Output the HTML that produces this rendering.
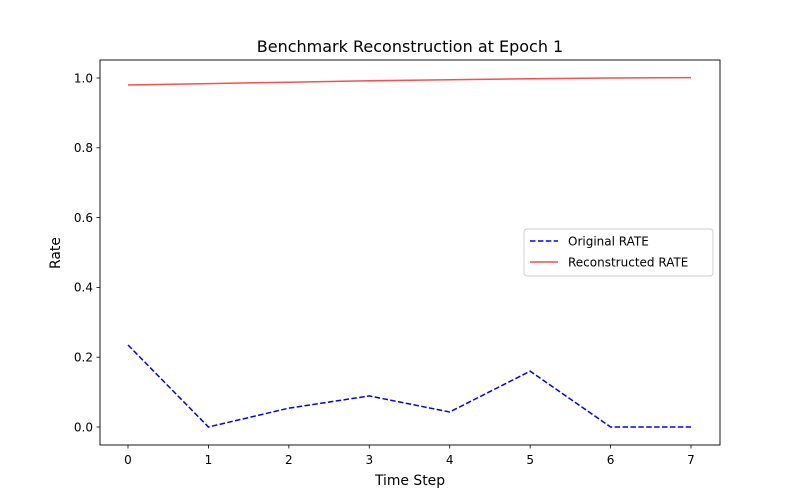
<!DOCTYPE html>
<html><head><meta charset="utf-8">
<style>
html,body{margin:0;padding:0;background:#fff;}
svg{display:block;font-family:"DejaVu Sans","Liberation Sans",sans-serif;}
</style></head>
<body>
<svg id="chart" width="800" height="500" xmlns="http://www.w3.org/2000/svg">
<rect width="800" height="500" fill="#fff"/>
<text x="410" y="52" font-size="16" text-anchor="middle">Benchmark Reconstruction at Epoch 1</text>
<g id="axes"></g>
<g id="series"></g>
<rect x="100" y="60" width="620" height="385" fill="none" stroke="#000" stroke-width="0.9"/>
<text x="410" y="485" font-size="13.9" text-anchor="middle">Time Step</text>
<text x="60" y="253" font-size="13.9" text-anchor="middle" transform="rotate(-90 60 253)">Rate</text>
<g>
<rect x="524" y="229" width="189" height="47" rx="3" fill="#fff" stroke="#ccc" stroke-width="0.9"/>
<line x1="530" y1="241" x2="558" y2="241" stroke="#0000ff" stroke-width="1.5" stroke-dasharray="5.5,2.4"/>
<text x="568" y="245.5" font-size="12">Original RATE</text>
<line x1="530" y1="262" x2="558" y2="262" stroke="#ff0000" stroke-opacity="0.7" stroke-width="1.5"/>
<text x="568" y="266.5" font-size="12">Reconstructed RATE</text>
</g>
</svg>
<script>
const steps=[0,1,2,3,4,5,6,7];
const original=[0.235,0.0,0.054,0.089,0.043,0.16,0.0,0.0];
const reconstructed=[0.98,0.984,0.988,0.992,0.995,0.998,1.0,1.001];
const yTicks=[0.0,0.2,0.4,0.6,0.8,1.0];
const xTicks=[0,1,2,3,4,5,6,7];
const NS="http://www.w3.org/2000/svg";
function xs(v){return 128+v*(691-128)/7;}
function ys(v){return 427-v*349;}
const axes=document.getElementById('axes');
const series=document.getElementById('series');
function mk(tag,attrs,parent){const e=document.createElementNS(NS,tag);for(const k in attrs)e.setAttribute(k,attrs[k]);parent.appendChild(e);return e;}
xTicks.forEach(t=>{
  const l=mk('line',{x1:xs(t),x2:xs(t),y1:445,y2:448.5,stroke:'#000','stroke-width':0.8},axes);
  
  
  const tx=mk('text',{x:xs(t),y:464,'font-size':12,'text-anchor':'middle'},axes);
  tx.textContent=t;
  
  
});
yTicks.forEach(t=>{
  const l=mk('line',{x1:96.5,x2:100,y1:ys(t),y2:ys(t),stroke:'#000','stroke-width':0.8},axes);
  
  
  const tx=mk('text',{x:93,y:ys(t)+4.3,'font-size':12,'text-anchor':'end'},axes);
  tx.textContent=t.toFixed(1);
  
  
});
function pts(arr){return arr.map((v,i)=>xs(steps[i])+','+ys(v)).join(' ');}
const p1=mk('polyline',{points:pts(original),fill:'none',stroke:'#0000ff','stroke-width':1.5,'stroke-dasharray':'5.5,2.4'},series);


const p2=mk('polyline',{points:pts(reconstructed),fill:'none',stroke:'#ff0000','stroke-opacity':0.7,'stroke-width':1.5},series);


</script>
</body></html>
